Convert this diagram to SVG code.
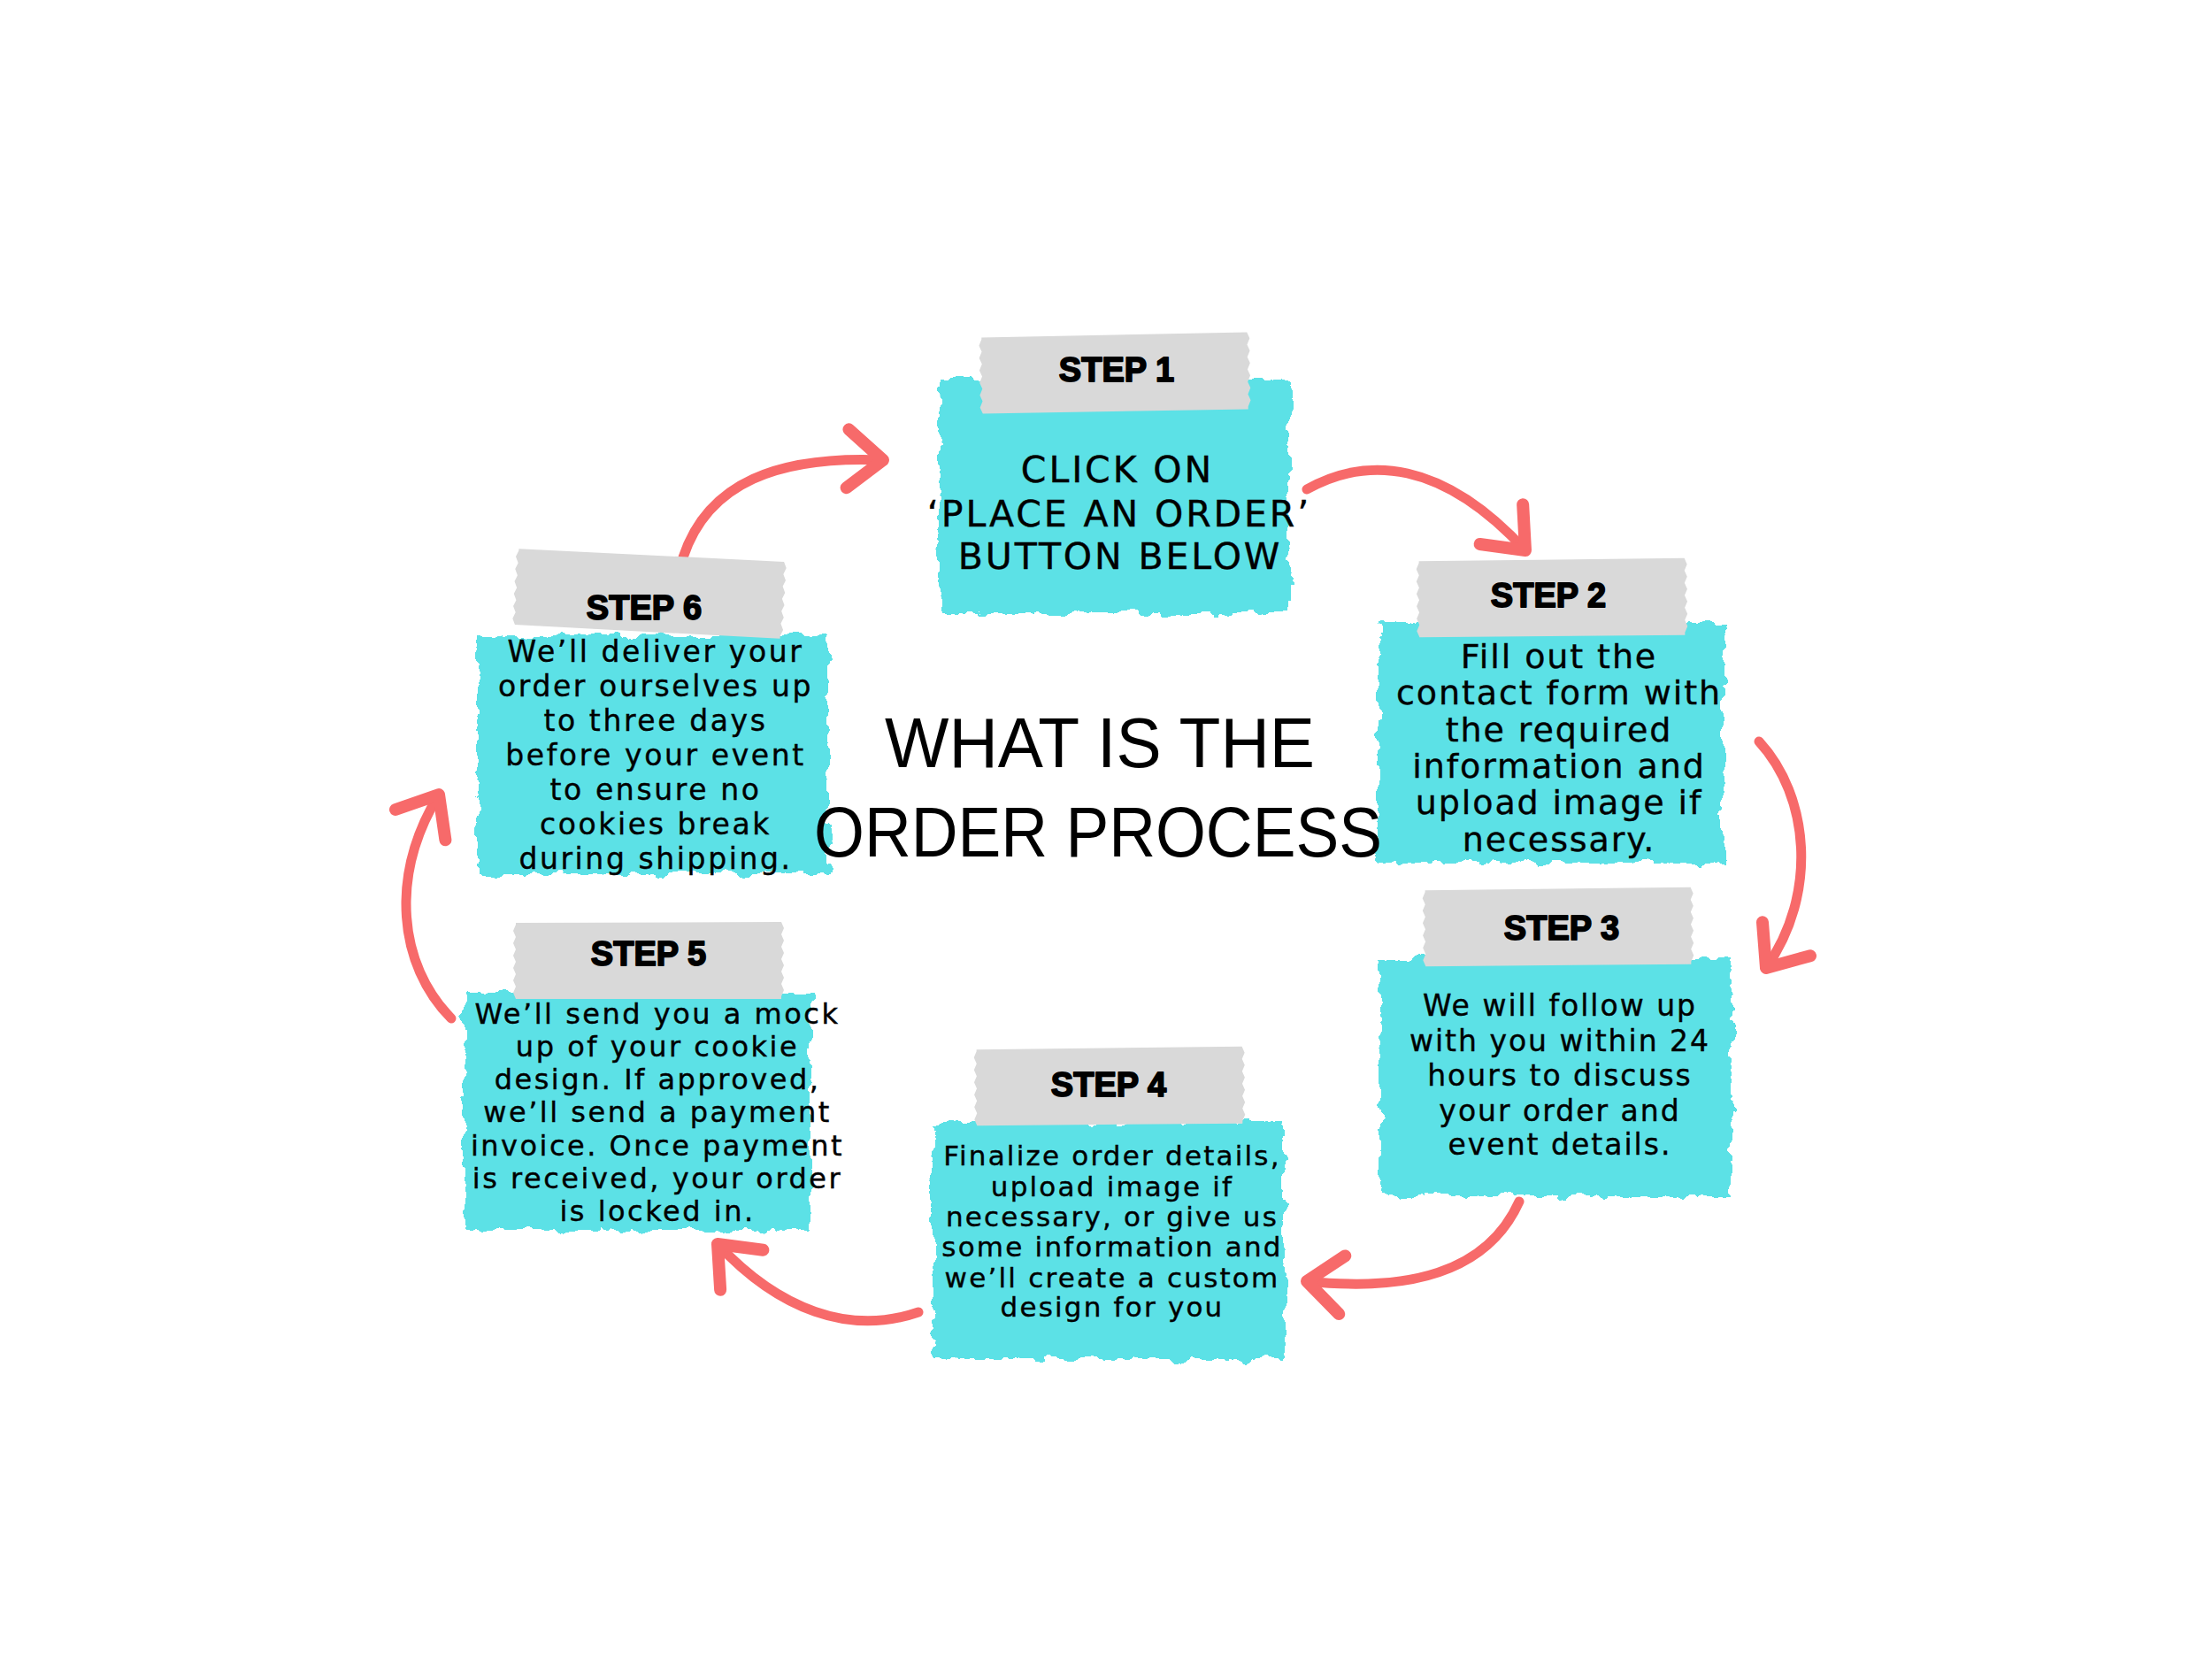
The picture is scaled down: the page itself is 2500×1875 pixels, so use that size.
<svg xmlns="http://www.w3.org/2000/svg" xmlns:xlink="http://www.w3.org/1999/xlink" width="2500" height="1875" viewBox="0 0 2500 1875">
<defs>
<style>
.paper{fill:#5CE1E6;filter:url(#torn);}
.tape{fill:#D9D9D9;}
.lbl{font-family:"Liberation Sans",Arial,sans-serif;font-weight:bold;font-size:38px;fill:#000;stroke:#000;stroke-width:1.8;stroke-linejoin:round;text-anchor:middle;}
.body{font-family:"DejaVu Sans","Noto Sans",sans-serif;fill:#000;stroke:#000;stroke-width:0.4;text-anchor:middle;}
.title{font-family:"Liberation Sans",Arial,sans-serif;font-size:80px;fill:#000;}
.arrow{fill:none;stroke:#F76A6A;stroke-width:11;stroke-linecap:round;marker-end:url(#head);}
</style>
<filter id="torn" x="-6%" y="-8%" width="112%" height="116%">
<feTurbulence type="fractalNoise" baseFrequency="0.045" numOctaves="4" seed="3" result="n"/>
<feDisplacementMap in="SourceGraphic" in2="n" scale="18" xChannelSelector="R" yChannelSelector="G"/>
</filter>
<path id="tapeShape" d="M-150,-43 L150,-44 l3,7 -3,7 3,7 -3,7 3,7 -3,7 3,7 -3,7 3,7 -3,7 3,7 -3,7 L150,43 L-150,43 l-3,-7 3,-7 -3,-7 3,-7 -3,-7 3,-7 -3,-7 3,-7 -3,-7 3,-7 -3,-7 3,-7 Z"/>
<marker id="head" markerUnits="userSpaceOnUse" viewBox="-60 -50 70 100" markerWidth="70" markerHeight="100" refX="0" refY="0" orient="auto" overflow="visible">
<path d="M-40,-33 L0,0 L-40,33" fill="none" stroke="#F76A6A" stroke-width="14" stroke-linecap="round" stroke-linejoin="round"/>
</marker>
</defs>
<rect width="2500" height="1875" fill="#FFFFFF"/>

<g id="connectors">
<path class="arrow" d="M772,630 C800,545 880,515 998,520"/>
<path class="arrow" d="M1477,553 C1545,515 1630,520 1724,622"/>
<path class="arrow" d="M1988,838 C2045,900 2055,1010 1996,1094"/>
<path class="arrow" d="M1717,1358 C1680,1440 1590,1460 1477,1448"/>
<path class="arrow" d="M1038,1483 C960,1510 880,1480 811,1406"/>
<path class="arrow" d="M510,1151 C450,1090 440,990 496,898"/>
</g>

<g id="step1">
<rect class="paper" x="1062" y="428" width="396" height="265"/>
<use xlink:href="#tapeShape" class="tape" transform="translate(1260,422) rotate(-1)"/>
<text class="lbl" x="1262" y="431">STEP 1</text>
<g class="body" font-size="41" letter-spacing="2.9">
<text x="1263" y="545">CLICK ON</text>
<text x="1265" y="595">‘PLACE AN ORDER’</text>
<text x="1266" y="643">BUTTON BELOW</text>
</g>
</g>

<g id="step2">
<rect class="paper" x="1558" y="703" width="390" height="272"/>
<use xlink:href="#tapeShape" class="tape" transform="translate(1754,676) rotate(-0.5)"/>
<text class="lbl" x="1750" y="686">STEP 2</text>
<g class="body" font-size="38" letter-spacing="1.9">
<text x="1762" y="755">Fill out the</text>
<text x="1762" y="796">contact form with</text>
<text x="1762" y="838">the required</text>
<text x="1762" y="879">information and</text>
<text x="1762" y="920">upload image if</text>
<text x="1762" y="962">necessary.</text>
</g>
</g>

<g id="step3">
<rect class="paper" x="1560" y="1083" width="397" height="269"/>
<use xlink:href="#tapeShape" class="tape" transform="translate(1761,1048) rotate(-0.5)"/>
<text class="lbl" x="1765" y="1062">STEP 3</text>
<g class="body" font-size="33" letter-spacing="2">
<text x="1763" y="1148">We will follow up</text>
<text x="1763" y="1188">with you within 24</text>
<text x="1763" y="1227">hours to discuss</text>
<text x="1763" y="1267">your order and</text>
<text x="1763" y="1305">event details.</text>
</g>
</g>

<g id="step4">
<rect class="paper" x="1054" y="1268" width="397" height="268"/>
<use xlink:href="#tapeShape" class="tape" transform="translate(1254,1228) rotate(-0.5)"/>
<text class="lbl" x="1253" y="1239">STEP 4</text>
<g class="body" font-size="31" letter-spacing="2.2">
<text x="1257" y="1317">Finalize order details,</text>
<text x="1257" y="1352">upload image if</text>
<text x="1257" y="1386">necessary, or give us</text>
<text x="1257" y="1420">some information and</text>
<text x="1257" y="1455">we’ll create a custom</text>
<text x="1257" y="1488">design for you</text>
</g>
</g>

<g id="step5">
<rect class="paper" x="525" y="1121" width="391" height="269"/>
<use xlink:href="#tapeShape" class="tape" transform="translate(733,1086)"/>
<text class="lbl" x="733" y="1091">STEP 5</text>
<g class="body" font-size="32" letter-spacing="2.5">
<text x="743" y="1157">We’ll send you a mock</text>
<text x="743" y="1194">up of your cookie</text>
<text x="743" y="1231">design. If approved,</text>
<text x="743" y="1268">we’ll send a payment</text>
<text x="743" y="1306">invoice. Once payment</text>
<text x="743" y="1343">is received, your order</text>
<text x="743" y="1380">is locked in.</text>
</g>
</g>

<g id="step6">
<rect class="paper" x="540" y="718" width="396" height="270"/>
<use xlink:href="#tapeShape" class="tape" transform="translate(734,671) rotate(3)"/>
<text class="lbl" x="728" y="700">STEP 6</text>
<g class="body" font-size="33" letter-spacing="2.6">
<text x="741" y="748">We’ll deliver your</text>
<text x="741" y="787">order ourselves up</text>
<text x="741" y="826">to three days</text>
<text x="741" y="865">before your event</text>
<text x="741" y="904">to ensure no</text>
<text x="741" y="943">cookies break</text>
<text x="741" y="982">during shipping.</text>
</g>
</g>

<g id="title">
<text class="title" x="1000" y="867" textLength="486" lengthAdjust="spacingAndGlyphs">WHAT IS THE</text>
<text class="title" x="920" y="968" textLength="642" lengthAdjust="spacingAndGlyphs">ORDER PROCESS</text>
</g>
</svg>
